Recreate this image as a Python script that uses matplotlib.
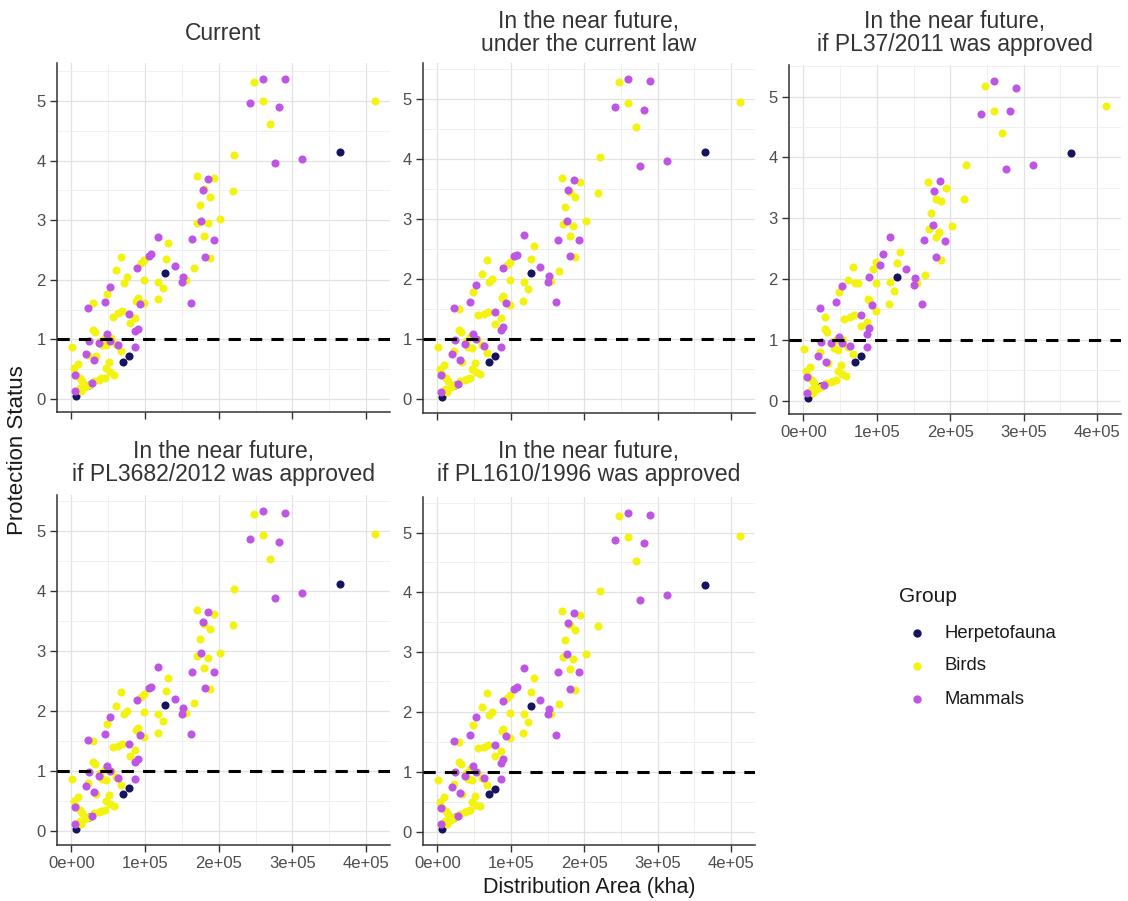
import numpy as np
import matplotlib
matplotlib.use("Agg")
from matplotlib import pyplot as plt
from matplotlib.lines import Line2D
from matplotlib.ticker import MultipleLocator, FuncFormatter

plt.rcParams['font.family'] = ['Liberation Sans', 'DejaVu Sans']

# distribution area (kha) of each species, by group
herp_area = [6000, 24000, 70000, 78000, 127000, 364000]
bird_area = [248000, 260000, 270000, 412000, 221000, 219000, 170000, 194000, 180000, 188000,
             174000, 171000, 185000, 202000, 180000, 188000, 166000, 131000, 128000, 99000,
             95000, 67000, 61000, 75000, 71000, 99000, 118000, 124000, 117000, 155000,
             49000, 30000, 90000, 88000, 99000, 56000, 63000, 69000, 87000, 79000,
             29000, 32000, 45000, 39000, 42000, 54000, 61000, 1000, 22000, 67000,
             33000, 51000, 47000, 58000, 40000, 45000, 9000, 4000, 6000, 12000,
             15000, 18000, 11000, 13000, 24000, 31000, 38000, 52000, 47000]
mammal_area = [260000, 290000, 242000, 282000, 276000, 313000, 186000, 178000, 176000, 164000,
               193000, 181000, 162000, 118000, 140000, 152000, 150000, 108000, 105000, 89000,
               53000, 45000, 22000, 93000, 78000, 90000, 86000, 48000, 24000, 53000,
               63000, 86000, 37000, 20000, 31000, 28000, 5000, 5000]

# protection status today
herp_current = [0.05, 0.24, 0.63, 0.72, 2.12, 4.15]
bird_current = [5.32, 5.00, 4.61, 5.00, 4.10, 3.49, 3.74, 3.71, 3.52, 3.39,
                3.25, 2.95, 2.95, 3.02, 2.73, 2.37, 2.20, 2.62, 2.35, 2.33,
                2.28, 2.38, 2.16, 2.04, 1.94, 2.00, 1.97, 1.87, 1.68, 1.99,
                1.77, 1.61, 1.70, 1.65, 1.62, 1.38, 1.44, 1.47, 1.36, 1.28,
                1.16, 1.12, 1.03, 0.97, 0.91, 1.02, 0.92, 0.87, 0.74, 0.80,
                0.72, 0.63, 0.53, 0.41, 0.35, 0.36, 0.59, 0.52, 0.41, 0.35,
                0.30, 0.20, 0.18, 0.13, 0.23, 0.30, 0.32, 0.45, 0.90]
mammal_current = [5.37, 5.37, 4.97, 4.89, 3.96, 4.03, 3.69, 3.50, 2.99, 2.68,
                  2.67, 2.38, 1.62, 2.72, 2.23, 2.05, 1.97, 2.43, 2.40, 2.20,
                  1.88, 1.63, 1.53, 1.59, 1.43, 1.18, 1.14, 1.10, 0.97, 0.97,
                  0.91, 0.88, 0.94, 0.76, 0.66, 0.27, 0.13, 0.40]

# protection status in the near future (current law, PL3682/2012, PL1610/1996)
herp_future = [0.04, 0.24, 0.63, 0.72, 2.10, 4.12]
bird_future = [5.28, 4.93, 4.53, 4.95, 4.03, 3.43, 3.69, 3.62, 3.45, 3.37,
               3.20, 2.92, 2.89, 2.97, 2.72, 2.37, 2.13, 2.56, 2.34, 2.28,
               2.24, 2.32, 2.09, 2.00, 1.95, 1.98, 1.96, 1.84, 1.64, 1.97,
               1.78, 1.50, 1.72, 1.69, 1.57, 1.40, 1.42, 1.45, 1.35, 1.26,
               1.16, 1.13, 1.04, 0.98, 0.88, 1.00, 0.90, 0.87, 0.80, 0.78,
               0.62, 0.60, 0.50, 0.42, 0.34, 0.36, 0.58, 0.50, 0.40, 0.35,
               0.30, 0.20, 0.18, 0.13, 0.24, 0.30, 0.32, 0.45, 0.86]
mammal_future = [5.33, 5.29, 4.87, 4.82, 3.88, 3.96, 3.65, 3.48, 2.97, 2.66,
                 2.66, 2.39, 1.62, 2.73, 2.20, 2.05, 1.96, 2.41, 2.38, 2.18,
                 1.91, 1.62, 1.52, 1.60, 1.45, 1.21, 1.15, 1.09, 0.99, 1.00,
                 0.89, 0.88, 0.93, 0.75, 0.65, 0.26, 0.12, 0.40]

# protection status if PL37/2011 was approved
herp_pl37 = [0.04, 0.24, 0.63, 0.73, 2.04, 4.07]
bird_pl37 = [5.17, 4.76, 4.40, 4.84, 3.88, 3.31, 3.60, 3.50, 3.31, 3.28,
             3.09, 2.83, 2.78, 2.87, 2.69, 2.31, 2.06, 2.45, 2.27, 2.28,
             2.17, 2.19, 1.99, 1.93, 1.93, 1.93, 1.95, 1.81, 1.59, 1.93,
             1.78, 1.37, 1.66, 1.67, 1.48, 1.35, 1.38, 1.40, 1.30, 1.22,
             1.17, 1.12, 1.00, 0.96, 0.87, 1.00, 0.88, 0.85, 0.80, 0.76,
             0.62, 0.58, 0.48, 0.40, 0.33, 0.34, 0.56, 0.48, 0.39, 0.34,
             0.29, 0.19, 0.17, 0.12, 0.22, 0.29, 0.30, 0.44, 0.84]
mammal_pl37 = [5.26, 5.14, 4.72, 4.76, 3.81, 3.88, 3.62, 3.45, 2.89, 2.64,
               2.62, 2.36, 1.59, 2.69, 2.16, 2.02, 1.90, 2.41, 2.23, 2.04,
               1.89, 1.62, 1.52, 1.57, 1.40, 1.19, 1.10, 1.05, 0.96, 0.95,
               0.89, 0.88, 0.94, 0.74, 0.64, 0.26, 0.13, 0.38]

group_names = ["Herpetofauna", "Birds", "Mammals"]
group_colors = ["#17145f", "#f3f312", "#bf55e4"]

scenarios = {
    "current": [herp_current, bird_current, mammal_current],
    "future": [herp_future, bird_future, mammal_future],
    "pl37": [herp_pl37, bird_pl37, mammal_pl37],
}
areas = [herp_area, bird_area, mammal_area]

W, H = 1128, 901
fig = plt.figure(figsize=(W / 100, H / 100), dpi=100)


def box(left, top, right, bottom):
    return [left / W, 1 - bottom / H, (right - left) / W, (bottom - top) / H]


def expand(values):
    lo, hi = min(values), max(values)
    pad = (hi - lo) * 0.05
    return lo - pad, hi + pad


# title, scenario, panel box (px), x labels shown, title centre y (px)
panels = [
    ("Current", "current", (57, 63, 390, 412), False, 33),
    ("In the near future,\nunder the current law", "future", (423, 63, 755, 413), False, 33),
    ("In the near future,\nif PL37/2011 was approved", "pl37", (789, 65, 1121, 414), True, 33),
    ("In the near future,\nif PL3682/2012 was approved", "future", (57, 495, 390, 845), True, 463),
    ("In the near future,\nif PL1610/1996 was approved", "future", (423, 497, 755, 845), True, 463),
]

all_area = herp_area + bird_area + mammal_area
xlim = expand(all_area)

for title, key, (l, t, r, b), xlabels, ty in panels:
    ax = fig.add_axes(box(l, t, r, b))
    status = scenarios[key]
    for name, color, x, y in zip(group_names, group_colors, areas, status):
        ax.scatter(x, y, s=34, color=color, linewidths=0, zorder=3)
    ax.axhline(1, color="black", lw=2.2, ls=(0, (4, 3)), zorder=4)

    ax.set_xlim(xlim)
    ax.set_ylim(expand(status[0] + status[1] + status[2]))
    ax.xaxis.set_major_locator(MultipleLocator(100000))
    ax.xaxis.set_minor_locator(MultipleLocator(50000))
    ax.yaxis.set_major_locator(MultipleLocator(1))
    ax.yaxis.set_minor_locator(MultipleLocator(0.5))
    ax.xaxis.set_major_formatter(FuncFormatter(lambda v, p: "{:.0e}".format(v)))

    ax.set_axisbelow(True)
    ax.grid(which="major", color="#e2e2e2", lw=0.9)
    ax.grid(which="minor", color="#eeeeee", lw=0.6)
    for side in ["top", "right"]:
        ax.spines[side].set_visible(False)
    for side in ["left", "bottom"]:
        ax.spines[side].set_color("#333333")
        ax.spines[side].set_linewidth(1.1)
    ax.tick_params(which="major", length=5, width=1.0, color="#333333",
                   labelsize=12, labelcolor="#4d4d4d", pad=3)
    ax.tick_params(which="minor", length=0)
    if not xlabels:
        ax.tick_params(labelbottom=False)

    fig.text((l + r) / 2 / W, 1 - ty / H, title, ha="center", va="center",
             fontsize=16.5, color="#333333", linespacing=1.05)

fig.text(18 / W, 1 - 450 / H, "Protection Status", rotation=90,
         ha="center", va="center", fontsize=16, color="#1a1a1a")
fig.text(589 / W, 1 - 888 / H, "Distribution Area (kha)",
         ha="center", va="center", fontsize=15.5, color="#1a1a1a")

# legend
fig.text(899 / W, 1 - 597 / H, "Group", ha="left", va="center",
         fontsize=15, color="#1a1a1a")
for i, (name, color) in enumerate(zip(group_names, group_colors)):
    yy = 1 - (633 + 33 * i) / H
    fig.add_artist(Line2D([917 / W], [yy], marker="o", markersize=5,
                          color=color, linestyle="none", transform=fig.transFigure))
    fig.text(945 / W, yy, name, ha="left", va="center", fontsize=13.3, color="#1a1a1a")

fig.savefig("out.png", dpi=100)
